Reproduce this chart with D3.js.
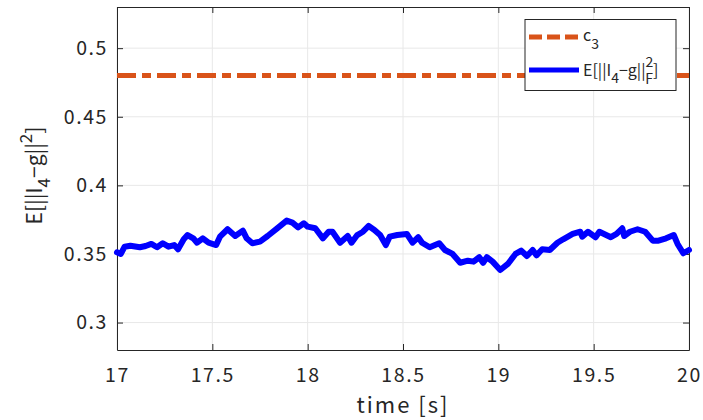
<!DOCTYPE html>
<html>
<head>
<meta charset="utf-8">
<script src="https://cdn.jsdelivr.net/npm/d3@7"></script>
<style>
  body { margin: 0; background: #fff; }
  text { font-family: "Noto Sans CJK JP", "Noto Sans", sans-serif; fill: #262626; }
</style>
</head>
<body>
<div id="chart"></div>
<script>
// time samples [s]
var times = [17.00, 17.02, 17.04, 17.07, 17.12, 17.15, 17.18, 17.21, 17.24, 17.27,
   17.30, 17.32, 17.35, 17.37, 17.40, 17.42, 17.45, 17.48, 17.52, 17.54,
   17.58, 17.62, 17.66, 17.68, 17.71, 17.75, 17.79, 17.84, 17.89, 17.92,
   17.95, 17.98, 18.00, 18.04, 18.08, 18.11, 18.13, 18.17, 18.21, 18.23,
   18.26, 18.29, 18.32, 18.35, 18.38, 18.41, 18.43, 18.47, 18.52, 18.55,
   18.58, 18.60, 18.64, 18.69, 18.72, 18.76, 18.80, 18.84, 18.87, 18.90,
   18.92, 18.94, 18.97, 19.01, 19.05, 19.09, 19.12, 19.15, 19.18, 19.20,
   19.23, 19.27, 19.31, 19.34, 19.39, 19.43, 19.44, 19.47, 19.51, 19.53,
   19.59, 19.62, 19.65, 19.66, 19.69, 19.73, 19.77, 19.81, 19.84, 19.88,
   19.92, 19.94, 19.97, 20.00];
// E[||I4-g||^2]
var errValues = [0.3512, 0.3500, 0.3553, 0.3560, 0.3549, 0.3558, 0.3573, 0.3549, 0.3578, 0.3553,
   0.3565, 0.3534, 0.3607, 0.3638, 0.3614, 0.3582, 0.3614, 0.3582, 0.3565, 0.3626,
   0.3680, 0.3631, 0.3670, 0.3614, 0.3578, 0.3590, 0.3631, 0.3687, 0.3743, 0.3728,
   0.3694, 0.3724, 0.3699, 0.3687, 0.3614, 0.3662, 0.3662, 0.3582, 0.3631, 0.3582,
   0.3638, 0.3662, 0.3704, 0.3675, 0.3638, 0.3565, 0.3626, 0.3638, 0.3646, 0.3582,
   0.3622, 0.3582, 0.3549, 0.3578, 0.3529, 0.3500, 0.3436, 0.3451, 0.3444, 0.3476,
   0.3436, 0.3476, 0.3444, 0.3383, 0.3427, 0.3500, 0.3524, 0.3485, 0.3529, 0.3490,
   0.3534, 0.3529, 0.3582, 0.3607, 0.3646, 0.3662, 0.3626, 0.3662, 0.3622, 0.3662,
   0.3622, 0.3646, 0.3687, 0.3631, 0.3662, 0.3680, 0.3662, 0.3597, 0.3597, 0.3614,
   0.3638, 0.3573, 0.3505, 0.3529];
var c3 = 0.48;
var xTicks = [17, 17.5, 18, 18.5, 19, 19.5, 20];
var yTicks = [0.3, 0.35, 0.4, 0.45, 0.5];

var W = 703, H = 420;
var pLeft = 117, pRight = 689, pTop = 7, pBottom = 350;

var svg = d3.select('#chart').append('svg')
   .attr('width', W).attr('height', H);

var xScale = d3.scaleLinear().domain([17, 20]).range([pLeft, pRight]);
var yScale = d3.scaleLinear().domain([0.28, 0.53]).range([pBottom, pTop]);

// grid
svg.append('g').selectAll('line').data(xTicks).enter().append('line')
   .attr('x1', d => xScale(d)).attr('x2', d => xScale(d))
   .attr('y1', pTop).attr('y2', pBottom)
   .attr('stroke', '#e8e8e8').attr('stroke-width', 1);
svg.append('g').selectAll('line').data(yTicks).enter().append('line')
   .attr('x1', pLeft).attr('x2', pRight)
   .attr('y1', d => yScale(d)).attr('y2', d => yScale(d))
   .attr('stroke', '#e8e8e8').attr('stroke-width', 1);

// axes (ticks inside, box on)
var fmt = d => String(d);
svg.append('g').attr('transform', 'translate(0,' + pBottom + ')')
   .call(d3.axisBottom(xScale).tickValues(xTicks).tickFormat(fmt).tickSizeInner(-6).tickSizeOuter(0).tickPadding(18));
svg.append('g').attr('transform', 'translate(0,' + pTop + ')')
   .call(d3.axisTop(xScale).tickValues(xTicks).tickFormat('').tickSizeInner(-6).tickSizeOuter(0));
svg.append('g').attr('transform', 'translate(' + pLeft + ',0)')
   .call(d3.axisLeft(yScale).tickValues(yTicks).tickFormat(fmt).tickSizeInner(-6).tickSizeOuter(0).tickPadding(9));
svg.append('g').attr('transform', 'translate(' + pRight + ',0)')
   .call(d3.axisRight(yScale).tickValues(yTicks).tickFormat('').tickSizeInner(-6).tickSizeOuter(0));

svg.selectAll('.domain').attr('stroke', '#262626');
svg.selectAll('.tick line').attr('stroke', '#262626');
svg.selectAll('.tick text').style('font-size', '19.5px').style('letter-spacing', '1.6px')
   .attr('fill', '#262626');

// c3 line
svg.append('line')
   .attr('x1', xScale(17)).attr('x2', xScale(20))
   .attr('y1', yScale(c3)).attr('y2', yScale(c3))
   .attr('stroke', '#D95319').attr('stroke-width', 5)
   .attr('stroke-dasharray', '19,6,9,6');

// error curve
var line = d3.line().x((d, i) => xScale(times[i])).y(d => yScale(d));
svg.append('path').datum(errValues)
   .attr('d', line)
   .attr('fill', 'none').attr('stroke', '#0000FF')
   .attr('stroke-width', 6).attr('stroke-linejoin', 'round').attr('stroke-linecap', 'round');

// legend
var lg = svg.append('g');
lg.append('rect').attr('x', 525).attr('y', 19.5).attr('width', 151).attr('height', 71)
   .attr('fill', '#fff').attr('stroke', '#262626').attr('stroke-width', 1);
lg.append('line').attr('x1', 529).attr('x2', 579).attr('y1', 37).attr('y2', 37)
   .attr('stroke', '#D95319').attr('stroke-width', 5).attr('stroke-dasharray', '13,5');
lg.append('line').attr('x1', 529).attr('x2', 579).attr('y1', 70).attr('y2', 70)
   .attr('stroke', '#0000FF').attr('stroke-width', 5);

var t1 = lg.append('text').attr('x', 583).attr('y', 41).style('font-size', '16px');
t1.append('tspan').text('c');
t1.append('tspan').attr('dy', 8).style('font-size', '14px').text('3');

var t2 = lg.append('text').attr('x', 583).attr('y', 76).style('font-size', '16px');
t2.append('tspan').text('E[||I');
t2.append('tspan').attr('dy', 7).style('font-size', '14px').text('4');
t2.append('tspan').attr('dy', -7).text('−g||');
t2.append('tspan').attr('dy', -9).style('font-size', '14px').text('2');
t2.append('tspan').attr('dx', -8).attr('dy', 17).style('font-size', '14px').text('F');
t2.append('tspan').attr('dy', -8).text(']');

// axis labels
svg.append('text').attr('x', (pLeft + pRight) / 2).attr('y', 413)
   .attr('text-anchor', 'middle').style('font-size', '22px').style('letter-spacing', '2px')
   .text('time [s]');

var yl = svg.append('text')
   .attr('transform', 'translate(42,' + ((pTop + pBottom) / 2 - 3) + ') rotate(-90)')
   .attr('text-anchor', 'middle').style('font-size', '21px');
yl.append('tspan').text('E[||I');
yl.append('tspan').attr('dy', 8).style('font-size', '17px').text('4');
yl.append('tspan').attr('dy', -8).text('−g||');
yl.append('tspan').attr('dy', -10).style('font-size', '17px').text('2');
yl.append('tspan').attr('dy', 10).text(']');
</script>
</body>
</html>
